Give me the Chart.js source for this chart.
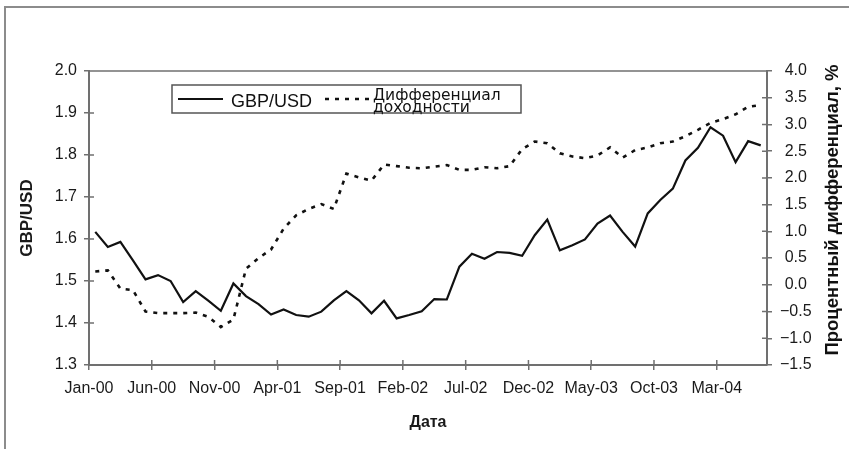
<!DOCTYPE html>
<html>
<head>
<meta charset="utf-8">
<title>GBP/USD и дифференциал доходности</title>
<script src="https://cdn.jsdelivr.net/npm/chart.js@4.4.1/dist/chart.umd.min.js"></script>
<style>
  html, body { margin: 0; padding: 0; background: #fff; }
  canvas { display: block; }
</style>
</head>
<body>
<canvas id="fxChart" width="849" height="449"></canvas>
<script>
// Monthly data, Jan-00 .. Jun-04
const months = [
  'Jan-00','Feb-00','Mar-00','Apr-00','May-00','Jun-00','Jul-00','Aug-00','Sep-00','Oct-00','Nov-00','Dec-00',
  'Jan-01','Feb-01','Mar-01','Apr-01','May-01','Jun-01','Jul-01','Aug-01','Sep-01','Oct-01','Nov-01','Dec-01',
  'Jan-02','Feb-02','Mar-02','Apr-02','May-02','Jun-02','Jul-02','Aug-02','Sep-02','Oct-02','Nov-02','Dec-02',
  'Jan-03','Feb-03','Mar-03','Apr-03','May-03','Jun-03','Jul-03','Aug-03','Sep-03','Oct-03','Nov-03','Dec-03',
  'Jan-04','Feb-04','Mar-04','Apr-04','May-04','Jun-04'
];

// GBP/USD exchange rate (left axis)
const gbpUsd = [
  1.617, 1.581, 1.593, 1.549, 1.504, 1.514, 1.500, 1.450, 1.476, 1.453,
  1.429, 1.494, 1.464, 1.445, 1.420, 1.432, 1.419, 1.415, 1.427, 1.454,
  1.476, 1.454, 1.423, 1.453, 1.411, 1.419, 1.428, 1.457, 1.456, 1.534,
  1.565, 1.553, 1.569, 1.567, 1.560, 1.609, 1.646, 1.573, 1.585, 1.599,
  1.637, 1.656, 1.617, 1.582, 1.661, 1.693, 1.720, 1.787, 1.817, 1.866,
  1.846, 1.783, 1.833, 1.823
];

// yield differential, % (right axis)
const yieldDiff = [
  0.25, 0.27, -0.07, -0.10, -0.50, -0.53, -0.53, -0.53, -0.52, -0.60,
  -0.79, -0.65, 0.30, 0.50, 0.66, 1.05, 1.30, 1.42, 1.51, 1.42,
  2.08, 2.01, 1.95, 2.25, 2.22, 2.19, 2.18, 2.21, 2.24, 2.15,
  2.15, 2.20, 2.18, 2.22, 2.54, 2.68, 2.65, 2.46, 2.40, 2.37,
  2.42, 2.57, 2.38, 2.52, 2.57, 2.65, 2.68, 2.78, 2.90, 3.03,
  3.10, 3.19, 3.33, 3.36
];

const axisGrey = '#707070';
const ink = '#111111';
const family = "'Liberation Sans', Arial, sans-serif";
const tickFont = { family, size: 16 };
const titleFont = { family, size: 17, weight: 'bold' };
const rightTitle = 'Процентный дифференциал, %';

Chart.defaults.color = '#1a1a1a';

// each month sits in the middle of its slot
const toPoints = arr => arr.map((v, i) => ({ x: i + 0.5, y: v }));

const fmt = v => {
  const s = Math.abs(v).toFixed(1);
  return v < -1e-9 ? '\u2212' + s : s;
};

// white page, outer grey frame, top edge of the plot box, inner half of the ticks
const plotFrame = {
  id: 'plotFrame',
  beforeDraw(chart) {
    const c = chart.ctx;
    c.save();
    c.fillStyle = '#fff';
    c.fillRect(0, 0, chart.width, chart.height);
    c.strokeStyle = '#8c8c8c';
    c.lineWidth = 2;
    c.strokeRect(5, 7, chart.width + 20, chart.height + 20);
    c.restore();
  },
  afterDraw(chart) {
    const { ctx: c, chartArea: a, scales } = chart;
    c.save();
    c.strokeStyle = axisGrey;
    c.lineWidth = 1.5;
    c.beginPath();
    c.moveTo(a.left, a.top);
    c.lineTo(a.right, a.top);
    scales.x.ticks.forEach((t, i) => {
      const px = scales.x.getPixelForTick(i);
      c.moveTo(px, a.bottom);
      c.lineTo(px, a.bottom - 5);
    });
    scales.y.ticks.forEach((t, i) => {
      const py = scales.y.getPixelForTick(i);
      c.moveTo(a.left, py);
      c.lineTo(a.left + 5, py);
    });
    scales.y1.ticks.forEach((t, i) => {
      const py = scales.y1.getPixelForTick(i);
      c.moveTo(a.right, py);
      c.lineTo(a.right - 5, py);
    });
    c.stroke();

    // right axis title reads bottom-to-top, like the left one
    c.translate(833, 210);
    c.rotate(-Math.PI / 2);
    c.fillStyle = ink;
    c.font = 'bold 18.5px ' + family;
    c.textAlign = 'center';
    c.textBaseline = 'middle';
    c.fillText(rightTitle, 0, 0);
    c.restore();
  }
};

// boxed legend inside the plot
const legendBox = {
  id: 'legendBox',
  afterDraw(chart) {
    const c = chart.ctx;
    const ds = chart.data.datasets;
    c.save();
    c.fillStyle = '#fff';
    c.fillRect(172, 85, 349, 28);
    c.strokeStyle = '#555';
    c.lineWidth = 1.5;
    c.strokeRect(172, 85, 349, 28);

    // solid sample + label
    c.strokeStyle = ds[0].borderColor;
    c.lineWidth = ds[0].borderWidth;
    c.beginPath();
    c.moveTo(178, 99);
    c.lineTo(223, 99);
    c.stroke();
    c.fillStyle = ink;
    c.font = '18px ' + family;
    c.textBaseline = 'alphabetic';
    c.textAlign = 'left';
    c.fillText(ds[0].label, 231, 106.5);

    // dashed sample + two-line label
    c.strokeStyle = ds[1].borderColor;
    c.lineWidth = ds[1].borderWidth;
    c.setLineDash(ds[1].borderDash);
    c.beginPath();
    c.moveTo(325, 99);
    c.lineTo(372, 99);
    c.stroke();
    c.setLineDash([]);
    c.font = "15.5px 'DejaVu Sans', sans-serif";
    const words = ds[1].label.split(' ');
    c.fillText(words[0], 373, 99.5);
    c.fillText(words[1], 373, 111.5);
    c.restore();
  }
};

new Chart(document.getElementById('fxChart'), {
  type: 'line',
  data: {
    datasets: [
      {
        label: 'GBP/USD',
        data: toPoints(gbpUsd),
        yAxisID: 'y',
        borderColor: ink,
        borderWidth: 2.2,
        pointRadius: 0,
        tension: 0
      },
      {
        label: 'Дифференциал доходности',
        data: toPoints(yieldDiff),
        yAxisID: 'y1',
        borderColor: ink,
        borderWidth: 2.6,
        borderDash: [4, 6],
        pointRadius: 0,
        tension: 0
      }
    ]
  },
  options: {
    responsive: false,
    animation: false,
    layout: { padding: { left: 0, right: 0, top: 71, bottom: 0 } },
    plugins: {
      legend: { display: false },
      tooltip: { enabled: false }
    },
    scales: {
      x: {
        type: 'linear',
        min: 0,
        max: months.length,
        afterBuildTicks: s => { s.ticks = s.ticks.filter(t => t.value % 5 === 0 && t.value < months.length); },
        afterFit: s => { s.height = 84; },
        ticks: {
          stepSize: 5,
          autoSkip: false,
          maxRotation: 0,
          padding: 9,
          font: tickFont,
          callback: v => months[v]
        },
        grid: { drawOnChartArea: false, color: axisGrey, lineWidth: 1.5, tickLength: 5 },
        border: { color: axisGrey, width: 2 },
        title: { display: true, text: 'Дата', font: { ...titleFont, size: 16 }, padding: { top: 0, bottom: 17 } }
      },
      y: {
        position: 'left',
        min: 1.3,
        max: 2.0,
        afterFit: s => { s.width = 89; },
        ticks: { stepSize: 0.1, padding: 7, font: tickFont, callback: v => fmt(v) },
        grid: { drawOnChartArea: false, color: axisGrey, lineWidth: 1.5, tickLength: 5 },
        border: { color: axisGrey, width: 2 },
        title: { display: true, text: 'GBP/USD', font: titleFont, padding: { top: 17, bottom: 0 } }
      },
      y1: {
        position: 'right',
        min: -1.5,
        max: 4.0,
        afterFit: s => { s.width = 82; },
        ticks: { stepSize: 0.5, padding: 8, crossAlign: 'center', font: tickFont, callback: v => fmt(v) },
        grid: { drawOnChartArea: false, color: axisGrey, lineWidth: 1.5, tickLength: 5 },
        border: { color: axisGrey, width: 2 }
      }
    }
  },
  plugins: [plotFrame, legendBox]
});
</script>
</body>
</html>
